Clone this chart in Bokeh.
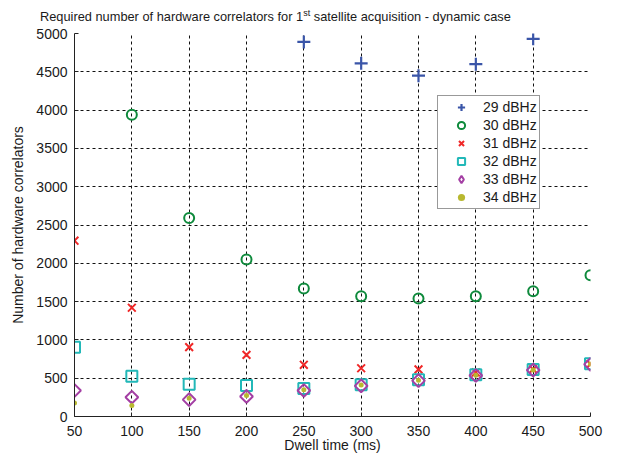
import math
from bokeh.plotting import figure
from bokeh.layouts import column
from bokeh.models import Range1d, FixedTicker, Legend, LegendItem, Div
from bokeh.embed import file_html
from bokeh.resources import INLINE

# ---------------- data ----------------
x_ticks = [50, 100, 150, 200, 250, 300, 350, 400, 450, 500]
y_ticks = [0, 500, 1000, 1500, 2000, 2500, 3000, 3500, 4000, 4500, 5000]

dwell_all = [50, 100, 150, 200, 250, 300, 350, 400, 450, 500]

dwell_29 = [250, 300, 350, 400, 450]
corr_29 = [4890, 4610, 4450, 4600, 4930]

dwell_30 = [100, 150, 200, 250, 300, 350, 400, 450, 500]
corr_30 = [3940, 2590, 2050, 1670, 1570, 1540, 1570, 1635, 1845]

corr_31 = [2295, 1420, 905, 805, 675, 630, 615, 575, 615, 685]
corr_32 = [905, 525, 420, 405, 365, 415, 480, 545, 612, 688]
corr_33 = [340, 252, 220, 262, 340, 400, 468, 535, 605, 680]
corr_34 = [175, 145, 238, 274, 350, 410, 472, 540, 608, 684]

labels = ["29 dBHz", "30 dBHz", "31 dBHz", "32 dBHz", "33 dBHz", "34 dBHz"]
colors = ["#3a55a8", "#0e8a3c", "#f02828", "#22b8b8", "#a43fa4", "#b8b830"]

title_main = "Required number of hardware correlators for 1"
title_sup = "st"
title_rest = "satellite acquisition - dynamic case"

FONT = "Liberation Sans"
TXT = "#1a1a1a"
W = 608

# ---------------- title (HTML, for the superscript) ----------------
title_html = (
    '<div style="padding:10px 0 0 40px; font-family:\'Liberation Sans\', Arial, sans-serif; '
    'font-size:12.8px; line-height:14px; color:%s; white-space:nowrap;">'
    '%s<sup style="font-size:9px; line-height:0; vertical-align:5px;">%s</sup> %s</div>'
    % (TXT, title_main, title_sup, title_rest)
)
title_div = Div(text=title_html, width=W, height=24, margin=(0, 0, 0, 0))

# ---------------- main plot ----------------
p = figure(width=W, height=431, output_backend="svg", toolbar_location=None,
           x_range=Range1d(50, 500), y_range=Range1d(0, 5000),
           min_border_left=74, min_border_right=18, min_border_top=9,
           min_border_bottom=30)
p.outline_line_color = None
p.background_fill_color = "white"
p.border_fill_color = "white"

for ax in (p.xaxis[0], p.yaxis[0]):
    ax.axis_line_color = "#222222"
    ax.axis_line_width = 1
    ax.major_tick_in = 4
    ax.major_tick_out = 0
    ax.major_tick_line_color = "#222222"
    ax.minor_tick_line_color = None
    ax.major_label_text_font = FONT
    ax.major_label_text_font_size = "14px"
    ax.major_label_text_color = TXT
    ax.axis_label_text_font = FONT
    ax.axis_label_text_font_size = "14px"
    ax.axis_label_text_font_style = "normal"
    ax.axis_label_text_color = TXT

p.xaxis[0].ticker = FixedTicker(ticks=x_ticks)
p.yaxis[0].ticker = FixedTicker(ticks=y_ticks)
p.xaxis[0].axis_label = "Dwell time (ms)"
p.yaxis[0].axis_label = "Number of hardware correlators"
p.xaxis[0].major_label_standoff = 9
p.xaxis[0].axis_label_standoff = -2
p.yaxis[0].major_label_standoff = 7
p.yaxis[0].axis_label_standoff = 7

for g in (p.xgrid[0], p.ygrid[0]):
    g.grid_line_color = "#111111"
    g.grid_line_dash = "3 3"
    g.grid_line_width = 1

r29 = p.scatter(dwell_29, corr_29, marker="cross", size=13,
                line_color=colors[0], line_width=2.2)
r30 = p.scatter(dwell_30, corr_30, marker="circle", size=10,
                line_color=colors[1], fill_color=None, line_width=2)
r31 = p.scatter(dwell_all, corr_31, marker="x", size=11,
                line_color=colors[2], line_width=2)
r32 = p.scatter(dwell_all, corr_32, marker="square", size=11,
                line_color=colors[3], fill_color=None, line_width=2)
r33 = p.scatter(dwell_all, corr_33, marker="square", angle=0.7854, size=9,
                line_color=colors[4], fill_color=None, line_width=2)
r34 = p.scatter(dwell_all, corr_34, marker="circle", size=5,
                fill_color=colors[5], line_color=None)
# legend key for the diamond series (a single not-a-number point, never drawn)
r33_key = p.scatter(x=[math.nan], y=[math.nan], marker="diamond", size=16,
                    line_color=colors[4], fill_color=None, line_width=2)

legend_renderers = [r29, r30, r31, r32, r33_key, r34]
legend = Legend(items=[LegendItem(label=l, renderers=[r])
                       for l, r in zip(labels, legend_renderers)],
                location=(363, 207))
legend.padding = 2
legend.margin = 0
legend.spacing = 0
legend.label_height = 18
legend.glyph_height = 18
legend.glyph_width = 42
legend.label_standoff = 1
legend.label_text_font = FONT
legend.label_text_font_size = "14px"
legend.label_text_color = TXT
legend.border_line_color = "#333333"
legend.border_line_width = 1
legend.background_fill_color = "white"
legend.background_fill_alpha = 1
p.add_layout(legend)

page = column(title_div, p, spacing=0)
open("out.html", "w").write(file_html(page, INLINE))
